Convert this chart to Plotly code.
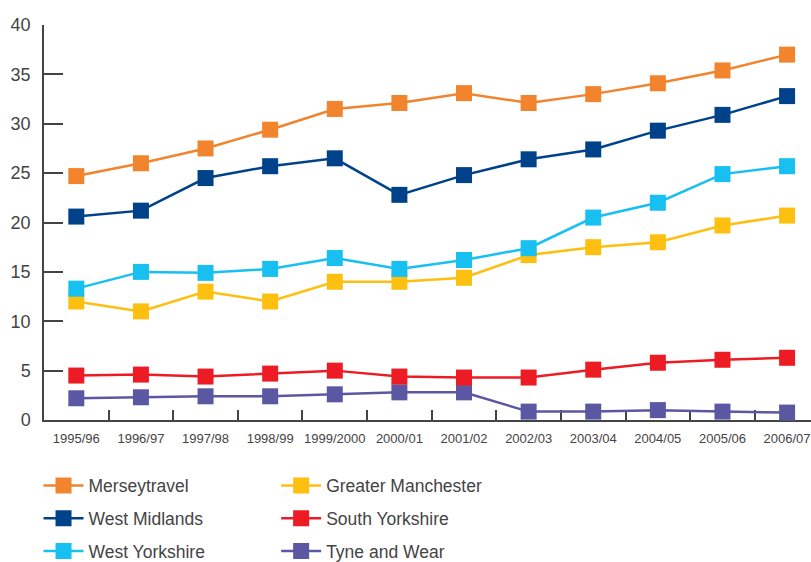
import plotly.graph_objects as go

years = ["1995/96", "1996/97", "1997/98", "1998/99", "1999/2000", "2000/01",
         "2001/02", "2002/03", "2003/04", "2004/05", "2005/06", "2006/07"]

merseytravel = [24.7, 26.0, 27.5, 29.4, 31.5, 32.1, 33.1, 32.1, 33.0, 34.1, 35.4, 37.0]
west_midlands = [20.6, 21.2, 24.5, 25.7, 26.5, 22.8, 24.8, 26.4, 27.4, 29.3, 30.9, 32.8]
west_yorkshire = [13.3, 15.0, 14.9, 15.3, 16.4, 15.3, 16.2, 17.4, 20.5, 22.0, 24.9, 25.7]
greater_manchester = [12.0, 11.0, 13.0, 12.0, 14.0, 14.0, 14.4, 16.7, 17.5, 18.0, 19.7, 20.7]
south_yorkshire = [4.5, 4.6, 4.4, 4.7, 5.0, 4.4, 4.3, 4.3, 5.1, 5.8, 6.1, 6.3]
tyne_and_wear = [2.2, 2.3, 2.4, 2.4, 2.6, 2.8, 2.8, 0.85, 0.85, 1.0, 0.85, 0.75]

y_ticks = [0, 5, 10, 15, 20, 25, 30, 35, 40]

# (name, values, colour, legend, rank) — drawn bottom to top
series = [
    ("Tyne and Wear", tyne_and_wear, "#5B57A2", "legend2", 3),
    ("South Yorkshire", south_yorkshire, "#ED1C24", "legend2", 2),
    ("Greater Manchester", greater_manchester, "#FDC010", "legend2", 1),
    ("West Yorkshire", west_yorkshire, "#17C0F0", "legend", 3),
    ("West Midlands", west_midlands, "#00428A", "legend", 2),
    ("Merseytravel", merseytravel, "#F2842E", "legend", 1),
]

fig = go.Figure()
for i, (name, vals, col, leg, rank) in enumerate(series):
    fig.add_trace(go.Scatter(
        x=years, y=vals, name=name, mode="lines+markers",
        line=dict(color=col, width=2.5),
        marker=dict(symbol="square", size=16, color=col),
        cliponaxis=False, legend=leg, legendrank=rank,
        legendgroup=f"g{i}",
    ))

text_col = "#444444"
font = "Liberation Sans, Arial, sans-serif"

legend_style = dict(
    xref="container", yref="container",
    xanchor="left", yanchor="top", orientation="v",
    font=dict(size=17.5, color=text_col), tracegroupgap=7,
    itemwidth=40, bgcolor="rgba(0,0,0,0)",
)

fig.update_layout(
    width=811, height=562,
    margin=dict(l=44, r=0, t=25, b=142, autoexpand=False),
    paper_bgcolor="white", plot_bgcolor="white",
    font=dict(family=font, color=text_col),
    showlegend=True,
    legend=dict(x=0.0475, y=0.168, **legend_style),
    legend2=dict(x=0.3405, y=0.168, **legend_style),
    xaxis=dict(
        type="category", range=[-0.5, 11.37],
        showline=True, linecolor=text_col, linewidth=1.5,
        ticks="inside", ticklen=10, tickwidth=1.5, tickcolor=text_col,
        tickson="boundaries", showgrid=False, zeroline=False,
        tickfont=dict(size=13, color=text_col), ticklabelstandoff=6,
        tickangle=0, layer="below traces",
    ),
    yaxis=dict(
        range=[0, 40], tickvals=y_ticks,
        showline=True, linecolor=text_col, linewidth=1.5,
        ticks="inside", ticklen=19, tickwidth=1.5, tickcolor=text_col,
        showgrid=False, zeroline=False,
        tickfont=dict(size=18, color=text_col), ticklabelstandoff=8,
        layer="below traces",
    ),
)

fig.write_html("out.html")
